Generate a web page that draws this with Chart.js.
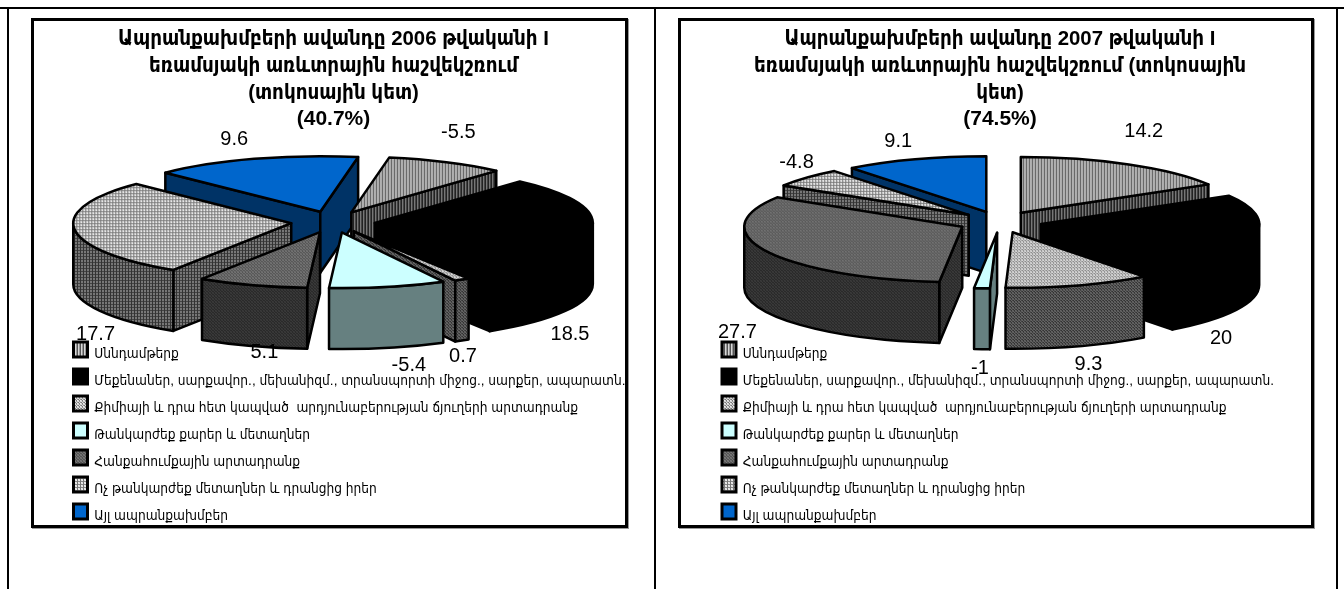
<!DOCTYPE html>
<html>
<head>
<meta charset="utf-8">
<script src="https://cdn.jsdelivr.net/npm/chart.js@4"></script>
<style>
  body { margin: 0; background: #fff; overflow: hidden; }
  .rule { position: absolute; background: #000; }
  .panel { position: absolute; top: 18px; height: 510px; border: 3px solid #000; box-sizing: border-box; box-shadow: 1px 1px 0 #999; }
  canvas { position: absolute; left: -1px; top: -1px; }
</style>
</head>
<body>
<div class="rule" style="left:0;top:7px;width:1344px;height:2px"></div>
<div class="rule" style="left:7px;top:7px;width:2px;height:582px"></div>
<div class="rule" style="left:654px;top:7px;width:2px;height:582px"></div>
<div class="rule" style="left:1336px;top:7px;width:2px;height:582px"></div>
<div class="panel" style="left:31px;width:597px"><canvas id="chart2006" width="593" height="515"></canvas></div>
<div class="panel" style="left:678px;width:636px"><canvas id="chart2007" width="632" height="515"></canvas></div>

<script>
const categories = [
  "Սննդամթերք",
  "Մեքենաներ, սարքավոր., մեխանիզմ., տրանսպորտի միջոց., սարքեր, ապարատն.",
  "Քիմիայի և դրա հետ կապված  արդյունաբերության ճյուղերի արտադրանք",
  "Թանկարժեք քարեր և մետաղներ",
  "Հանքահումքային արտադրանք",
  "Ոչ թանկարժեք մետաղներ և դրանցից իրեր",
  "Այլ ապրանքախմբեր",
];
const values2006 = [-5.5, 18.5, 0.7, -5.4, 5.1, 17.7, 9.6];
const values2007 = [14.2, 20, 9.3, -1, 27.7, -4.8, 9.1];

const title2006 = ["Ապրանքախմբերի ավանդը 2006 թվականի I", "եռամսյակի առևտրային հաշվեկշռում", "(տոկոսային կետ)"];
const title2007 = ["Ապրանքախմբերի ավանդը 2007 թվականի I", "եռամսյակի առևտրային հաշվեկշռում (տոկոսային", "կետ)"];
const total2006 = "(40.7%)";
const total2007 = "(74.5%)";

// label nudges from the slice rim, px
const nudges2006 = [[12, -30], [-22, 107], [1, 77], [21, 79], [12, 67], [21, 105], [-20, -19]];
const nudges2007 = [[15, -33], [-34, 104], [10, 79], [-2, 80], [-29, 81], [-10, -15], [-17, -18]];

const TILT = 0.255;
const DEPTH = 61;
const EXPLODE = 42;
const RADIUS = 218;
const FONT = "'Liberation Sans', 'DejaVu Sans', sans-serif";
const ARM_FONT = "'Liberation Sans', 'DejaVu Sans Condensed', 'DejaVu Sans', sans-serif";

// small repeating cells, top colour then wall colour per category
const cells = [
  { top: [["#d8d8d8", "#999", "#555"]], wall: [["#777", "#444", "#222"]] },
  { top: [["#000"]], wall: [["#000"]] },
  {
    top: [["#ddd", "#999", "#ccc"], ["#777", "#ddd", "#999"], ["#ccc", "#777", "#eee"]],
    wall: [["#666", "#444", "#555"], ["#333", "#666", "#444"], ["#555", "#333", "#666"]],
  },
  { top: [["#ccffff"]], wall: [["#668080"]] },
  {
    top: [["#777", "#555", "#6a6a6a"], ["#555", "#777", "#555"], ["#6a6a6a", "#555", "#777"]],
    wall: [["#3a3a3a", "#2a2a2a", "#333"], ["#2a2a2a", "#3a3a3a", "#2a2a2a"], ["#333", "#2a2a2a", "#3a3a3a"]],
  },
  {
    top: [["#eee", "#ddd", "#777"], ["#ddd", "#eee", "#777"], ["#888", "#888", "#777"]],
    wall: [["#777", "#777", "#333"], ["#777", "#777", "#333"], ["#444", "#444", "#333"]],
  },
  { top: [["#0066cc"]], wall: [["#003366"]] },
];

function makePattern(ctx, cell, squash) {
  const c = document.createElement("canvas");
  c.width = cell[0].length;
  c.height = cell.length;
  const g = c.getContext("2d");
  cell.forEach((row, y) =>
    row.forEach((col, x) => {
      g.fillStyle = col;
      g.fillRect(x, y, 1, 1);
    })
  );
  const p = ctx.createPattern(c, "repeat");
  if (squash) p.setTransform(new DOMMatrix().scale(1, 1 / TILT));
  return p;
}

// draws the slices back to front with walls, using the arc elements for the top faces
const pie3d = {
  id: "pie3d",
  afterLayout(chart) {
    // the legend clips to its own box, long labels need the whole width
    chart.legend.right = chart.width;
    chart.legend.width = chart.width - chart.legend.left;
  },
  beforeDatasetDraw(chart, args, opts) {
    const ctx = chart.ctx;
    const arcs = chart.getDatasetMeta(0).data;
    const order = arcs.map((a, i) => i);
    const mid = (a) => (a.startAngle + a.endAngle) / 2;
    order.sort((i, j) => Math.sin(mid(arcs[i])) - Math.sin(mid(arcs[j])));

    order.forEach((i) => {
      const arc = arcs[i];
      const m = mid(arc);
      const px = opts.cx + Math.cos(m) * EXPLODE;
      const py = opts.cy + Math.sin(m) * EXPLODE * TILT;
      const a0 = arc.startAngle;
      const a1 = arc.endAngle;
      const rx = (a) => px + Math.cos(a) * arc.outerRadius;
      const ry = (a) => py + Math.sin(a) * arc.outerRadius * TILT;

      ctx.save();
      ctx.lineWidth = 2.5;
      ctx.lineJoin = "round";
      ctx.strokeStyle = "#000";
      ctx.fillStyle = opts.walls[i];

      const quad = (a) => {
        ctx.beginPath();
        ctx.moveTo(px, py);
        ctx.lineTo(rx(a), ry(a));
        ctx.lineTo(rx(a), ry(a) + DEPTH);
        ctx.lineTo(px, py + DEPTH);
        ctx.closePath();
        ctx.fill();
        ctx.stroke();
      };
      if (Math.cos(a0) < 0) quad(a0);
      if (Math.cos(a1) > 0) quad(a1);

      // rim wall, only the part facing the viewer
      const turn = Math.PI * 2;
      for (const k of [-1, 0, 1]) {
        const s = Math.max(a0, k * turn);
        const e = Math.min(a1, k * turn + Math.PI);
        if (e <= s) continue;
        ctx.beginPath();
        ctx.ellipse(px, py, arc.outerRadius, arc.outerRadius * TILT, 0, s, e);
        ctx.ellipse(px, py + DEPTH, arc.outerRadius, arc.outerRadius * TILT, 0, e, s, true);
        ctx.closePath();
        ctx.fill();
        ctx.stroke();
      }

      // top face by the library's own arc element, squashed
      ctx.save();
      ctx.translate(px, py);
      ctx.scale(1, TILT);
      ctx.translate(-arc.x, -arc.y);
      arc.draw(ctx);
      ctx.restore();

      ctx.beginPath();
      ctx.moveTo(px, py);
      ctx.ellipse(px, py, arc.outerRadius, arc.outerRadius * TILT, 0, a0, a1);
      ctx.closePath();
      ctx.stroke();
      ctx.restore();
    });
    return false;
  },
  afterDraw(chart, args, opts) {
    const ctx = chart.ctx;
    const arcs = chart.getDatasetMeta(0).data;
    ctx.save();
    // legend swatches sit a little above their text
    ctx.lineWidth = 3;
    ctx.strokeStyle = "#000";
    chart.legend.legendHitBoxes.forEach((box, i) => {
      ctx.fillStyle = opts.swatches[i];
      ctx.fillRect(box.left, box.top - 4, 14, 15);
      ctx.strokeRect(box.left, box.top - 4, 14, 15);
    });
    ctx.fillStyle = "#000";
    ctx.font = "20px " + FONT;
    ctx.textAlign = "center";
    ctx.textBaseline = "middle";
    arcs.forEach((arc, i) => {
      const m = (arc.startAngle + arc.endAngle) / 2;
      const x = opts.cx + Math.cos(m) * (EXPLODE + arc.outerRadius);
      const y = opts.cy + Math.sin(m) * (EXPLODE + arc.outerRadius) * TILT;
      ctx.fillText(String(chart.data.datasets[0].data[i]), x + opts.nudges[i][0], y + opts.nudges[i][1]);
    });
    ctx.restore();
  },
};

function buildChart(id, values, titleLines, total, rotation, cx, cy, nudges, padLeft) {
  const el = document.getElementById(id);
  const ctx = el.getContext("2d");
  const tops = cells.map((c) => makePattern(ctx, c.top, true));
  const walls = cells.map((c) => makePattern(ctx, c.wall, false));
  const swatches = cells.map((c) => makePattern(ctx, c.top, false));

  return new Chart(ctx, {
    type: "pie",
    data: {
      labels: categories,
      datasets: [
        {
          data: values,
          backgroundColor: tops,
          borderWidth: 0,
          radius: RADIUS,
          clip: false,
        },
      ],
    },
    options: {
      responsive: false,
      animation: false,
      rotation: rotation,
      layout: { padding: { left: padLeft, right: padLeft - 8, top: 4, bottom: 0 } },
      plugins: {
        tooltip: { enabled: false },
        pie3d: { cx: cx, cy: cy, nudges: nudges, walls: walls, swatches: swatches },
        title: {
          display: true,
          text: titleLines,
          color: "#000",
          font: { family: ARM_FONT, size: 20.4, weight: "bold", lineHeight: 1.314 },
          padding: { top: 2, bottom: 0 },
        },
        subtitle: {
          display: true,
          text: total,
          color: "#000",
          font: { family: FONT, size: 21, weight: "bold", lineHeight: 1.25 },
          padding: { top: 0, bottom: 0 },
        },
        legend: {
          position: "left",
          align: "end",
          labels: {
            color: "#000",
            font: { family: ARM_FONT, size: 13.6 },
            boxWidth: 14,
            boxHeight: 16,
            padding: 11,
            generateLabels: (chart) =>
              chart.data.labels.map((text, i) => ({
                text: text,
                fillStyle: "rgba(0,0,0,0)",
                strokeStyle: "rgba(0,0,0,0)",
                lineWidth: 0,
                index: i,
              })),
          },
        },
      },
    },
    plugins: [pie3d],
  });
}

buildChart("chart2006", values2006, title2006, total2006, 10, 300, 202, nudges2006, 29.5);
buildChart("chart2007", values2007, title2007, total2007, 0, 320, 202, nudges2007, 31);
</script>
</body>
</html>
